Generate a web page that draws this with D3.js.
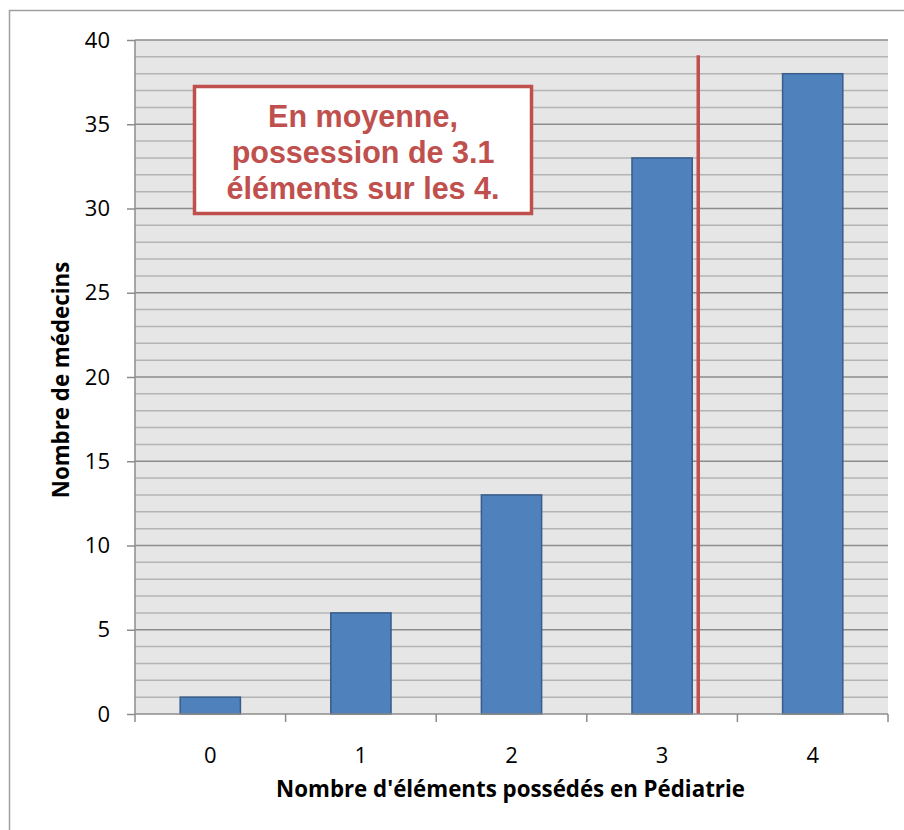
<!DOCTYPE html>
<html>
<head>
<meta charset="utf-8">
<script src="https://cdn.jsdelivr.net/npm/d3@7"></script>
<style>
  html, body { margin: 0; padding: 0; background: #fff; }
  svg { display: block; }
</style>
</head>
<body>
<div id="chart"></div>
<script>
// Répartition des médecins selon le nombre d'éléments possédés
const categories = ["0", "1", "2", "3", "4"];
const counts = [1, 6, 13, 33, 38];
const yTicks = [0, 5, 10, 15, 20, 25, 30, 35, 40];
const meanPosition = 3.24;           // position of the average marker on the category axis
const noteLines = ["En moyenne,", "possession de 3.1", "éléments sur les 4."];
const xTitle = "Nombre d'éléments possédés en Pédiatrie";
const yTitle = "Nombre de médecins";

const W = 904, H = 830;
const margin = { left: 135, right: 16, top: 40, bottom: 116 };
const plotW = W - margin.left - margin.right;
const plotH = H - margin.top - margin.bottom;
const axisFont = "'Open Sans', Lato, sans-serif";

const svg = d3.select("#chart").append("svg")
  .attr("width", W).attr("height", H);

// outer chart frame
svg.append("rect")
  .attr("x", 9.5).attr("y", 10.5)
  .attr("width", W + 10).attr("height", H + 10)
  .attr("fill", "#fff").attr("stroke", "#a0a0a0").attr("stroke-width", 1.5);

const g = svg.append("g").attr("transform", `translate(${margin.left},${margin.top})`);

const x = d3.scaleBand().domain(categories).range([0, plotW]).paddingInner(0.6).paddingOuter(0.3);
const xLin = d3.scaleLinear().domain([-0.5, categories.length - 0.5]).range([0, plotW]);
const y = d3.scaleLinear().domain([0, 40]).range([plotH, 0]);

// plot background
g.append("rect").attr("width", plotW).attr("height", plotH).attr("fill", "#e6e6e6");

// minor gridlines
g.append("g").selectAll("line")
  .data(d3.range(0, 41, 1).filter(v => v % 5 !== 0))
  .join("line")
  .attr("x1", 0).attr("x2", plotW)
  .attr("y1", d => y(d)).attr("y2", d => y(d))
  .attr("stroke", "#b4b4b4").attr("stroke-width", 1.5);

// major gridlines
g.append("g").selectAll("line")
  .data(yTicks.filter(v => v > 0))
  .join("line")
  .attr("x1", 0).attr("x2", plotW)
  .attr("y1", d => y(d)).attr("y2", d => y(d))
  .attr("stroke", "#8c8c8c").attr("stroke-width", 1.5);

// bars
g.append("g").selectAll("rect")
  .data(counts)
  .join("rect")
  .attr("x", (d, i) => x(categories[i]))
  .attr("width", x.bandwidth())
  .attr("y", d => y(d))
  .attr("height", d => plotH - y(d))
  .attr("fill", "#4f81bd")
  .attr("stroke", "#385d8a").attr("stroke-width", 1.5);

// average marker
g.append("line")
  .attr("x1", xLin(meanPosition)).attr("x2", xLin(meanPosition))
  .attr("y1", y(39.1)).attr("y2", plotH)
  .attr("stroke", "#c0504d").attr("stroke-width", 3.5);

// y axis
const yAxis = g.append("g")
  .call(d3.axisLeft(y).tickValues(yTicks).tickSize(8).tickPadding(17));
yAxis.select(".domain").attr("stroke", "#8c8c8c").attr("stroke-width", 1.5).attr("d", `M0,0V${plotH}`);
yAxis.selectAll(".tick line").attr("stroke", "#8c8c8c").attr("stroke-width", 1.5);
yAxis.selectAll(".tick text")
  .attr("font-family", axisFont).attr("font-size", 22).attr("fill", "#000");

// x axis with ticks between categories
const xAxisG = g.append("g").attr("transform", `translate(0,${plotH})`);
xAxisG.append("line").attr("x1", 0).attr("x2", plotW)
  .attr("stroke", "#8c8c8c").attr("stroke-width", 1.5);
xAxisG.selectAll("line.sep")
  .data(d3.range(0, categories.length + 1))
  .join("line").attr("class", "sep")
  .attr("x1", d => xLin(d - 0.5)).attr("x2", d => xLin(d - 0.5))
  .attr("y1", 0).attr("y2", 8)
  .attr("stroke", "#8c8c8c").attr("stroke-width", 1.5);
xAxisG.selectAll("text")
  .data(categories)
  .join("text")
  .attr("x", d => x(d) + x.bandwidth() / 2)
  .attr("y", 49)
  .attr("text-anchor", "middle")
  .attr("font-family", axisFont).attr("font-size", 22).attr("fill", "#000")
  .text(d => d);

// axis titles
svg.append("text")
  .attr("x", margin.left + plotW / 2 - 1).attr("y", 797)
  .attr("text-anchor", "middle")
  .attr("font-family", axisFont).attr("font-weight", "bold")
  .attr("font-size", 22.3).attr("fill", "#000")
  .text(xTitle);

svg.append("text")
  .attr("transform", `translate(69,${margin.top + plotH / 2 + 3}) rotate(-90)`)
  .attr("text-anchor", "middle")
  .attr("font-family", axisFont).attr("font-weight", "bold")
  .attr("font-size", 22.3).attr("fill", "#000")
  .text(yTitle);

// annotation box
const note = svg.append("g").attr("transform", "translate(194.5,86.5)");
note.append("rect")
  .attr("width", 337).attr("height", 127)
  .attr("fill", "#fff").attr("stroke", "#c0504d").attr("stroke-width", 3.5);
note.selectAll("text")
  .data(noteLines)
  .join("text")
  .attr("x", 337 / 2)
  .attr("y", (d, i) => 40 + i * 36.3)
  .attr("text-anchor", "middle")
  .attr("font-family", "'Liberation Sans', Arial, sans-serif").attr("font-weight", "bold")
  .attr("font-size", 30.5).attr("fill", "#c0504d")
  .text(d => d);
</script>
</body>
</html>
